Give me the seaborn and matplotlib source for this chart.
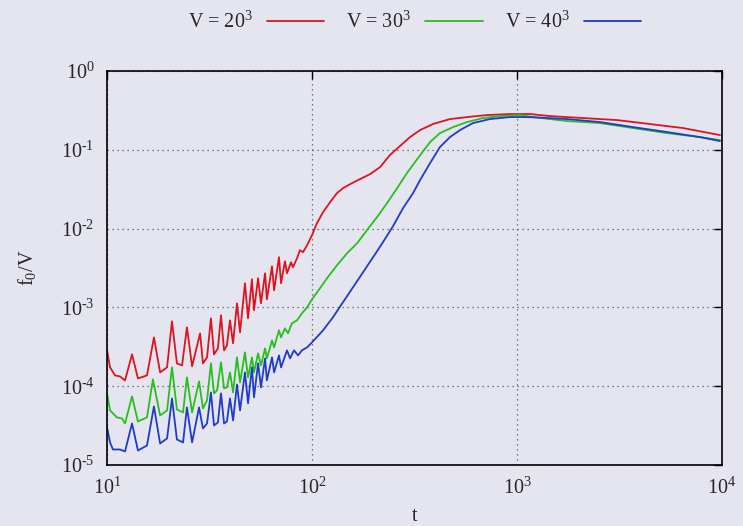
import numpy as np
import pandas as pd
import matplotlib
matplotlib.use("Agg")
import matplotlib.pyplot as plt
import seaborn as sns
from matplotlib.ticker import LogLocator, NullLocator, FuncFormatter

# ---- data (log10 values) ----
red_log_t = [1.000, 1.015, 1.039, 1.063, 1.088, 1.122, 1.151, 1.195, 1.229, 1.259, 1.293, 1.317,
             1.341, 1.366, 1.390, 1.415, 1.454, 1.468, 1.488, 1.507, 1.522, 1.541, 1.556, 1.571,
             1.585, 1.600, 1.615, 1.634, 1.649, 1.673, 1.688, 1.707, 1.717, 1.737, 1.751, 1.771,
             1.780, 1.805, 1.815, 1.839, 1.849, 1.868, 1.878, 1.898, 1.907, 1.927, 1.941, 1.956,
             1.976, 2.000, 2.024, 2.054, 2.088, 2.122, 2.151, 2.195, 2.234, 2.283, 2.332, 2.380,
             2.429, 2.478, 2.527, 2.590, 2.673, 2.756, 2.854, 2.966, 3.063, 3.161, 3.322, 3.488,
             3.649, 3.810, 3.990]
red_log_f = [-3.545, -3.761, -3.863, -3.876, -3.926, -3.596, -3.901, -3.863, -3.380, -3.825, -3.761, -3.177,
             -3.710, -3.736, -3.253, -3.748, -3.329, -3.710, -3.634, -3.139, -3.596, -3.520, -3.100, -3.545,
             -3.482, -3.164, -3.456, -2.948, -3.317, -2.694, -3.139, -2.643, -3.037, -2.630, -2.948, -2.567,
             -2.897, -2.478, -2.783, -2.363, -2.694, -2.414, -2.567, -2.427, -2.491, -2.376, -2.274, -2.300,
             -2.211, -2.084, -1.931, -1.792, -1.665, -1.550, -1.487, -1.423, -1.372, -1.309, -1.220, -1.067,
             -0.953, -0.839, -0.750, -0.673, -0.610, -0.585, -0.559, -0.546, -0.546, -0.572, -0.597, -0.623,
             -0.673, -0.724, -0.813]

green_log_t = [1.000, 1.015, 1.049, 1.073, 1.088, 1.122, 1.151, 1.195, 1.224, 1.259, 1.293, 1.317,
               1.341, 1.371, 1.390, 1.415, 1.449, 1.468, 1.488, 1.507, 1.522, 1.537, 1.556, 1.571,
               1.585, 1.600, 1.615, 1.634, 1.649, 1.673, 1.688, 1.707, 1.717, 1.737, 1.751, 1.771,
               1.780, 1.805, 1.815, 1.839, 1.849, 1.868, 1.883, 1.902, 1.927, 1.951, 1.976, 2.000,
               2.039, 2.073, 2.122, 2.171, 2.220, 2.268, 2.317, 2.366, 2.415, 2.463, 2.517, 2.576,
               2.624, 2.688, 2.756, 2.834, 2.917, 3.015, 3.078, 3.244, 3.405, 3.566, 3.732, 3.893,
               3.990]
green_log_f = [-4.091, -4.308, -4.396, -4.409, -4.473, -4.129, -4.447, -4.396, -3.914, -4.371, -4.308, -3.761,
               -4.295, -4.333, -3.888, -4.333, -3.939, -4.282, -4.180, -3.710, -4.091, -4.053, -3.698, -4.028,
               -4.015, -3.825, -4.079, -3.634, -3.952, -3.571, -3.888, -3.634, -3.825, -3.583, -3.736, -3.520,
               -3.647, -3.418, -3.507, -3.291, -3.380, -3.266, -3.329, -3.202, -3.164, -3.075, -2.999, -2.897,
               -2.757, -2.630, -2.465, -2.313, -2.186, -2.020, -1.855, -1.677, -1.487, -1.296, -1.105, -0.902,
               -0.788, -0.712, -0.648, -0.597, -0.572, -0.559, -0.585, -0.635, -0.661, -0.724, -0.788, -0.839,
               -0.877]

blue_log_t = [1.000, 1.015, 1.029, 1.063, 1.088, 1.122, 1.151, 1.195, 1.229, 1.259, 1.293, 1.317,
              1.341, 1.371, 1.390, 1.415, 1.449, 1.468, 1.488, 1.507, 1.522, 1.541, 1.556, 1.571,
              1.585, 1.600, 1.615, 1.634, 1.649, 1.673, 1.688, 1.707, 1.717, 1.737, 1.751, 1.771,
              1.780, 1.805, 1.815, 1.839, 1.849, 1.878, 1.893, 1.912, 1.932, 1.951, 1.976, 2.000,
              2.054, 2.102, 2.151, 2.200, 2.249, 2.298, 2.346, 2.395, 2.444, 2.493, 2.527, 2.576,
              2.624, 2.673, 2.722, 2.785, 2.868, 2.966, 3.063, 3.244, 3.405, 3.566, 3.732, 3.893,
              3.990]
blue_log_f = [-4.523, -4.714, -4.803, -4.803, -4.828, -4.473, -4.816, -4.752, -4.257, -4.727, -4.663, -4.155,
              -4.676, -4.714, -4.269, -4.714, -4.269, -4.536, -4.473, -4.079, -4.498, -4.460, -4.091, -4.473,
              -4.447, -4.155, -4.435, -3.977, -4.308, -3.825, -4.218, -3.761, -4.142, -3.710, -4.015, -3.647,
              -3.926, -3.634, -3.825, -3.609, -3.761, -3.545, -3.647, -3.545, -3.609, -3.545, -3.507, -3.444,
              -3.291, -3.126, -2.935, -2.745, -2.554, -2.363, -2.173, -1.970, -1.741, -1.550, -1.385, -1.169,
              -0.966, -0.839, -0.750, -0.661, -0.610, -0.585, -0.585, -0.610, -0.648, -0.712, -0.775, -0.839,
              -0.889]

series_labels = ["V = 20$^3$", "V = 30$^3$", "V = 40$^3$"]
series_colors = ["#dc1420", "#28be1e", "#1e3cc8"]
x_label = "t"
y_label = "f$_0$/V"

# ---- build table ----
frames = []
for lab, lt, lf in zip(series_labels,
                       [red_log_t, green_log_t, blue_log_t],
                       [red_log_f, green_log_f, blue_log_f]):
    frames.append(pd.DataFrame({"t": 10 ** np.array(lt), "f": 10 ** np.array(lf), "V": lab}))
df = pd.concat(frames, ignore_index=True)

bg = "#e5e5f0"
sns.set_theme(style="white")
plt.rcParams["font.family"] = ["Liberation Serif", "DejaVu Serif"]
plt.rcParams["mathtext.fontset"] = "custom"
plt.rcParams["mathtext.rm"] = "Liberation Serif"
plt.rcParams["mathtext.it"] = "Liberation Serif"
plt.rcParams["mathtext.bf"] = "Liberation Serif"
plt.rcParams["axes.unicode_minus"] = False

FS = 14.5


def pow_fmt(v, pos):
    e = int(round(np.log10(v)))
    if e < 0:
        return r"$10^{\text{-}%d}$" % (-e)
    return r"$10^{%d}$" % e


fig = plt.figure(figsize=(7.43, 5.26), dpi=100, facecolor=bg)
ax = fig.add_axes([107 / 743, 61 / 526, 615 / 743, 394 / 526])
ax.set_facecolor(bg)

sns.lineplot(data=df, x="t", y="f", hue="V", palette=dict(zip(series_labels, series_colors)),
             sort=False, estimator=None, linewidth=1.3, ax=ax, legend=False)

ax.set_xscale("log")
ax.set_yscale("log")
ax.set_xlim(10, 1e4)
ax.set_ylim(1e-5, 1)
ax.xaxis.set_major_locator(LogLocator(base=10, numticks=10))
ax.yaxis.set_major_locator(LogLocator(base=10, numticks=10))
ax.xaxis.set_minor_locator(NullLocator())
ax.yaxis.set_minor_locator(NullLocator())
ax.xaxis.set_major_formatter(FuncFormatter(pow_fmt))
ax.yaxis.set_major_formatter(FuncFormatter(pow_fmt))

ax.grid(True, which="major", linestyle=(0, (1, 3)), color="#555555", linewidth=0.9)
for s in ax.spines.values():
    s.set_visible(True)
    s.set_color("black")
    s.set_linewidth(1.2)
ax.tick_params(which="major", direction="in", length=6, width=1, color="black",
               top=True, right=True, labelsize=FS)
ax.tick_params(axis="x", pad=9)
ax.tick_params(axis="y", pad=9)

ax.set_xlabel(x_label, fontsize=FS, labelpad=6)
ax.set_ylabel(y_label, fontsize=FS, labelpad=16)

handles = [plt.Line2D([], [], color=c, linewidth=1.3) for c in series_colors]
fig.legend(handles, series_labels, loc="center", bbox_to_anchor=(0.558, 1 - 22 / 526), ncol=3,
           frameon=False, markerfirst=False, fontsize=FS, handlelength=2.85,
           handletextpad=0.7, columnspacing=1.1)

fig.savefig("out.png", dpi=100, facecolor=bg)
